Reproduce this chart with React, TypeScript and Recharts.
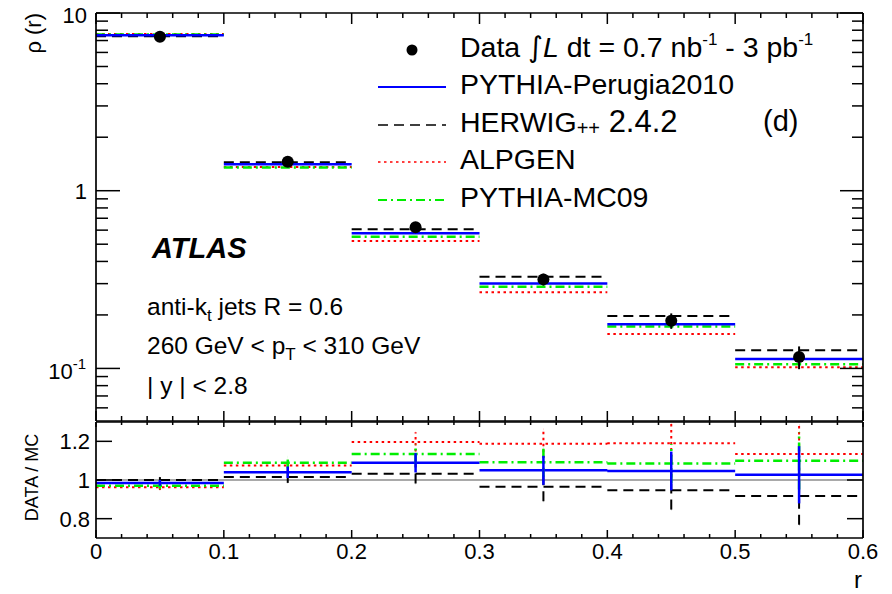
import React from 'react';
import { ComposedChart, Line, Scatter, XAxis, YAxis, ErrorBar, ReferenceLine } from 'recharts';

// ---------- data ----------
const binEdges = [0, 0.1, 0.2, 0.3, 0.4, 0.5, 0.6];
const binCenters = [0.05, 0.15, 0.25, 0.35, 0.45, 0.55];

const dataRho = [7.36, 1.456, 0.622, 0.317, 0.1855, 0.116];
const dataRhoErr = [0.07, 0.044, 0.031, 0.024, 0.0185, 0.017];
const perugiaRho = [7.5, 1.41, 0.576, 0.301, 0.177, 0.113];
const herwigRho = [7.4, 1.445, 0.606, 0.328, 0.197, 0.1265];
const alpgenRho = [7.62, 1.36, 0.521, 0.268, 0.156, 0.1015];
const mc09Rho = [7.58, 1.35, 0.551, 0.288, 0.172, 0.1055];

const perugiaRatio = [0.985, 1.04, 1.089, 1.05, 1.047, 1.027];
const herwigRatio = [1.0, 1.015, 1.032, 0.965, 0.947, 0.917];
const alpgenRatio = [0.963, 1.075, 1.197, 1.187, 1.19, 1.135];
const mc09Ratio = [0.97, 1.089, 1.135, 1.092, 1.085, 1.099];
const ratioErr = [0.015, 0.03, 0.05, 0.075, 0.1, 0.148];

const xTicks = [0, 0.02, 0.04, 0.06, 0.08, 0.1, 0.12, 0.14, 0.16, 0.18, 0.2, 0.22, 0.24, 0.26, 0.28, 0.3,
  0.32, 0.34, 0.36, 0.38, 0.4, 0.42, 0.44, 0.46, 0.48, 0.5, 0.52, 0.54, 0.56, 0.58, 0.6];
const xMajorTicks = [0, 0.1, 0.2, 0.3, 0.4, 0.5, 0.6];
const xTickLabels = ['0', '0.1', '0.2', '0.3', '0.4', '0.5', '0.6'];
const rhoTicks = [0.06, 0.07, 0.08, 0.09, 0.1, 0.2, 0.3, 0.4, 0.5, 0.6, 0.7, 0.8, 0.9, 1,
  2, 3, 4, 5, 6, 7, 8, 9, 10];
const rhoMajorTicks = [0.1, 1, 10];
const ratioTicks = [0.8, 1, 1.2];
const ratioTickLabels = ['0.8', '1', '1.2'];

const legendLabels = ['PYTHIA-Perugia2010', 'HERWIG++ 2.4.2', 'ALPGEN', 'PYTHIA-MC09'];

// ---------- styles ----------
const FONT = "'Liberation Sans', Arial, Helvetica, sans-serif";
const S = {
  perugia: { stroke: '#0000ff', width: 2.5, dash: undefined as string | undefined },
  herwig: { stroke: '#000000', width: 2, dash: '10 6' },
  alpgen: { stroke: '#ff0000', width: 2, dash: '2.5 3.5' },
  mc09: { stroke: '#00ee00', width: 2.5, dash: '9 4 2 4' },
};

const steps = (vals: number[]) =>
  vals.flatMap((v, i) => [
    { x: binEdges[i], y: v },
    { x: binEdges[i + 1], y: v },
    { x: binEdges[i + 1], y: null as number | null },
  ]);

const points = (vals: number[], errs: number[]) =>
  vals.map((v, i) => ({ x: binCenters[i], y: v, err: errs[i] }));

const near = (a: number, list: number[]) => list.some((b) => Math.abs(a - b) < 1e-9);

type Side = 'left' | 'right' | 'top' | 'bottom';
function makeTick(side: Side, majLen: number, minLen: number, majors: number[],
  label?: (v: number, x: number, y: number) => React.ReactNode) {
  return (props: any) => {
    const { x, y, payload } = props;
    const v = payload.value as number;
    const maj = near(v, majors);
    const len = maj ? majLen : minLen;
    let x2 = x, y2 = y;
    if (side === 'left') x2 = x + len;
    if (side === 'right') x2 = x - len;
    if (side === 'top') y2 = y + len;
    if (side === 'bottom') y2 = y - len;
    return (
      <g>
        <line x1={x} y1={y} x2={x2} y2={y2} stroke="#000" strokeWidth={1.5} />
        {maj && label ? label(v, x, y) : null}
      </g>
    );
  };
}

const rhoLabel = (v: number, x: number, y: number) => {
  if (Math.abs(v - 10) < 1e-9)
    return <text x={x - 9} y={y + 10} textAnchor="end" fontSize={22} fontFamily={FONT}>10</text>;
  if (Math.abs(v - 1) < 1e-9)
    return <text x={x - 9} y={y + 8} textAnchor="end" fontSize={22} fontFamily={FONT}>1</text>;
  return (
    <text x={x - 10} y={y + 11} textAnchor="end" fontSize={22} fontFamily={FONT}>
      10<tspan fontSize={15} dy={-10}>-1</tspan>
    </text>
  );
};

const ratioLabel = (v: number, x: number, y: number) => {
  const i = ratioTicks.findIndex((t) => Math.abs(t - v) < 1e-9);
  return <text x={x - 6} y={y + 8} textAnchor="end" fontSize={22} fontFamily={FONT}>{ratioTickLabels[i]}</text>;
};

const xLabel = (v: number, x: number, y: number) => {
  const i = xMajorTicks.findIndex((t) => Math.abs(t - v) < 1e-9);
  return <text x={x} y={y + 21} textAnchor="middle" fontSize={22} fontFamily={FONT}>{xTickLabels[i]}</text>;
};

const NoShape = () => <g />;
const DataDot = (p: any) => <circle cx={p.cx} cy={p.cy} r={6} fill="#000" />;

const axisLine = { stroke: '#000', strokeWidth: 1.7 };
const common = { tickSize: 0, tickMargin: 0, interval: 0 as const, tickLine: false, axisLine, allowDataOverflow: true };

export default function App() {
  const series = [
    { key: 'herwig', rho: herwigRho, ratio: herwigRatio, st: S.herwig },
    { key: 'alpgen', rho: alpgenRho, ratio: alpgenRatio, st: S.alpgen },
    { key: 'mc09', rho: mc09Rho, ratio: mc09Ratio, st: S.mc09 },
    { key: 'perugia', rho: perugiaRho, ratio: perugiaRatio, st: S.perugia },
  ];
  const legendSt = [S.perugia, S.herwig, S.alpgen, S.mc09];
  const rowBase = [94, 132, 169, 207];

  return (
    <div style={{ position: 'absolute', left: 0, top: 0, width: 892, height: 594, background: '#fff' }}>
      {/* top panel: plot area x 96..863, y 13..421 */}
      <div style={{ position: 'absolute', left: 0, top: 0 }}>
        <ComposedChart width={892} height={594} margin={{ top: 3, left: 36, right: 9, bottom: 153 }}>
          <XAxis xAxisId="b" type="number" dataKey="x" domain={[0, 0.6]} ticks={xTicks}
            orientation="bottom" height={20} {...common} tick={makeTick('bottom', 10, 5, xMajorTicks)} />
          <XAxis xAxisId="t" type="number" dataKey="x" domain={[0, 0.6]} ticks={xTicks}
            orientation="top" height={10} {...common} tick={makeTick('top', 11, 5, xMajorTicks)} />
          <YAxis yAxisId="l" scale="log" type="number" domain={[0.0506, 10]} ticks={rhoTicks}
            orientation="left" width={60} {...common} tick={makeTick('left', 24, 12, rhoMajorTicks, rhoLabel)} />
          <YAxis yAxisId="r" scale="log" type="number" domain={[0.0506, 10]} ticks={rhoTicks}
            orientation="right" width={20} {...common} tick={makeTick('right', 23, 11, rhoMajorTicks)} />
          {series.map((s) => (
            <Line key={s.key} xAxisId="b" yAxisId="l" data={steps(s.rho)} dataKey="y" type="linear"
              stroke={s.st.stroke} strokeWidth={s.st.width} strokeDasharray={s.st.dash}
              dot={false} activeDot={false} isAnimationActive={false} connectNulls={false} />
          ))}
          <Scatter xAxisId="b" yAxisId="l" data={points(dataRho, dataRhoErr)} dataKey="y"
            shape={DataDot} isAnimationActive={false}>
            <ErrorBar dataKey="err" direction="y" width={0} stroke="#000" strokeWidth={2} isAnimationActive={false} />
          </Scatter>
        </ComposedChart>
      </div>

      {/* ratio panel: plot area x 96..863, y 422..538 */}
      <div style={{ position: 'absolute', left: 0, top: 0 }}>
        <ComposedChart width={892} height={594} margin={{ top: 412, left: 36, right: 9, bottom: 16 }}>
          <XAxis xAxisId="b" type="number" dataKey="x" domain={[0, 0.6]} ticks={xTicks}
            orientation="bottom" height={40} {...common} tick={makeTick('bottom', 8, 4, xMajorTicks, xLabel)} />
          <XAxis xAxisId="t" type="number" dataKey="x" domain={[0, 0.6]} ticks={xTicks}
            orientation="top" height={10} {...common} tick={makeTick('top', 5, 3, xMajorTicks)} />
          <YAxis yAxisId="l" type="number" domain={[0.7, 1.3]} ticks={ratioTicks}
            orientation="left" width={60} {...common} tick={makeTick('left', 16, 8, ratioTicks, ratioLabel)} />
          <YAxis yAxisId="r" type="number" domain={[0.7, 1.3]} ticks={ratioTicks}
            orientation="right" width={20} {...common} tick={makeTick('right', 16, 8, ratioTicks)} />
          <ReferenceLine xAxisId="b" yAxisId="l" y={1} stroke="#555" strokeWidth={1.2} />
          {series.map((s) => (
            <Line key={'rl' + s.key} xAxisId="b" yAxisId="l" data={steps(s.ratio)} dataKey="y" type="linear"
              stroke={s.st.stroke} strokeWidth={s.st.width} strokeDasharray={s.st.dash}
              dot={false} activeDot={false} isAnimationActive={false} connectNulls={false} />
          ))}
          {series.map((s) => (
            <Scatter key={'re' + s.key} xAxisId="b" yAxisId="l" data={points(s.ratio, ratioErr)} dataKey="y"
              shape={NoShape} isAnimationActive={false}>
              <ErrorBar dataKey="err" direction="y" width={0} stroke={s.st.stroke} strokeWidth={s.st.width}
                strokeDasharray={s.st.dash} isAnimationActive={false} />
            </Scatter>
          ))}
        </ComposedChart>
      </div>

      {/* annotations and legend */}
      <svg width={892} height={594} style={{ position: 'absolute', left: 0, top: 0, pointerEvents: 'none' }}
        fontFamily={FONT}>
        <text transform="translate(41,13) rotate(-90)" textAnchor="end" fontSize={22}>ρ (r)</text>
        <text transform="translate(38,477.5) rotate(-90)" textAnchor="middle" fontSize={18}>DATA / MC</text>
        <text x={862} y={588} textAnchor="end" fontSize={24}>r</text>

        <text x={152} y={258} fontSize={29} fontWeight="bold" fontStyle="italic">ATLAS</text>
        <text x={147} y={315} fontSize={24.5}>
          anti-k<tspan fontSize={17} dy={6}>t</tspan><tspan fontSize={24.5} dy={-6}> jets R = 0.6</tspan>
        </text>
        <text x={147} y={354} fontSize={24.5}>
          260 GeV &lt; p<tspan fontSize={17} dy={6}>T</tspan><tspan fontSize={24.5} dy={-6}> &lt; 310 GeV</tspan>
        </text>
        <text x={147} y={394} fontSize={24.5}>| y | &lt; 2.8</text>

        <text x={763} y={131} fontSize={29}>(d)</text>

        {/* legend */}
        <circle cx={412} cy={50} r={5.5} fill="#000" />
        <text x={460} y={57} fontSize={28.5}>
          Data <tspan fontFamily="'DejaVu Sans', sans-serif">∫</tspan><tspan fontStyle="italic">L</tspan> dt = 0.7 nb
          <tspan fontSize={17} dy={-12}>-1</tspan><tspan dy={12}> - 3 pb</tspan>
          <tspan fontSize={17} dy={-12}>-1</tspan>
        </text>
        {legendLabels.map((lab, i) => (
          <g key={lab}>
            <line x1={378} x2={446} y1={rowBase[i] - 7} y2={rowBase[i] - 7} stroke={legendSt[i].stroke}
              strokeWidth={legendSt[i].width - 0.5} strokeDasharray={legendSt[i].dash} />
            {i === 1 ? (
              <text x={460} y={rowBase[i]} fontSize={28.5}>
                HERWIG<tspan fontSize={20} dy={3}>++</tspan><tspan fontSize={31} dy={-3}> 2.4.2</tspan>
              </text>
            ) : (
              <text x={460} y={rowBase[i]} fontSize={28.5}>{lab}</text>
            )}
          </g>
        ))}
      </svg>
    </div>
  );
}
